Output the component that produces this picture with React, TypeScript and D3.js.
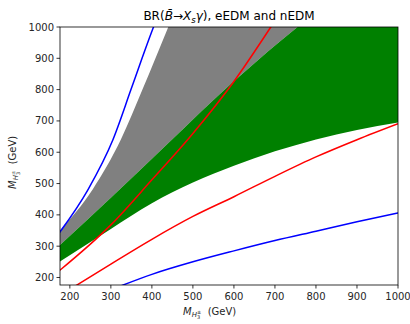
import React from "react";
import * as d3 from "d3";

const W = 410;
const H = 324;
const M = { left: 60, right: 12, top: 27, bottom: 39 };

const xTicks = [200, 300, 400, 500, 600, 700, 800, 900, 1000];
const yTicks = [200, 300, 400, 500, 600, 700, 800, 900, 1000];

// region boundaries [x, y]
const grayLeft: [number, number][] = [
  [176, 350], [256, 482], [325, 642], [377, 800], [440, 1000],
];
const greenUpper: [number, number][] = [
  [176, 304], [300, 455], [439, 628], [595, 821], [712, 954], [755, 1000],
];
const greenLower: [number, number][] = [
  [176, 251], [300, 355], [400, 437], [500, 503], [600, 557], [700, 603], [800, 641], [900, 671], [1000, 695],
];
const blueUpper: [number, number][] = [
  [170, 335], [244, 480], [305, 640], [349, 800], [376, 900], [404, 1000], [410, 1020],
];
const blueLower: [number, number][] = [
  [320, 171], [400, 210], [500, 250], [600, 285], [700, 318], [800, 348], [900, 378], [1000, 406],
];
const redUpper: [number, number][] = [
  [170, 217], [300, 368], [400, 512], [500, 660], [600, 826], [690, 1000], [696, 1012],
];
const redLower: [number, number][] = [
  [210, 170], [300, 243], [400, 322], [500, 395], [600, 458], [700, 523], [800, 585], [900, 640], [1000, 691],
];

export default function App() {
  const x = d3.scaleLinear().domain([176, 1000]).range([M.left, W - M.right]);
  const y = d3.scaleLinear().domain([176, 1000]).range([H - M.bottom, M.top]);
  const x0 = M.left, x1 = W - M.right, y0 = H - M.bottom, y1 = M.top;

  const line = d3
    .line<[number, number]>()
    .x((d) => x(d[0]))
    .y((d) => y(d[1]))
    .curve(d3.curveMonotoneX);

  const grayPoly = line(grayLeft)! + "L" + line([...greenUpper].reverse())!.slice(1) + "Z";
  const greenPoly =
    line(greenUpper)! +
    "L" + x(1000) + "," + y(1000) +
    "L" + line([...greenLower].reverse())!.slice(1) + "Z";

  const font = "DejaVu Sans, sans-serif";
  return (
    <svg width={W} height={H} style={{ position: "absolute", left: 0, top: 0 }} fontFamily={font}>
      <defs>
        <clipPath id="plot">
          <rect x={x0} y={y1} width={x1 - x0} height={y0 - y1} />
        </clipPath>
      </defs>
      <rect x={0} y={0} width={W} height={H} fill="white" />
      <g clipPath="url(#plot)">
        <path d={grayPoly} fill="#808080" />
        <path d={greenPoly} fill="#008000" />
        <path d={line(blueUpper)!} fill="none" stroke="#0000ff" strokeWidth={1.5} />
        <path d={line(blueLower)!} fill="none" stroke="#0000ff" strokeWidth={1.5} />
        <path d={line(redUpper)!} fill="none" stroke="#ff0000" strokeWidth={1.5} />
        <path d={line(redLower)!} fill="none" stroke="#ff0000" strokeWidth={1.5} />
      </g>
      <rect x={x0} y={y1} width={x1 - x0} height={y0 - y1} fill="none" stroke="#000" strokeWidth={0.8} />
      {xTicks.map((t) => (
        <g key={"x" + t}>
          <line x1={x(t)} x2={x(t)} y1={y0} y2={y0 + 3.5} stroke="#000" strokeWidth={0.8} />
          <text x={x(t)} y={y0 + 15} fontSize={10} textAnchor="middle" fill="#262626">
            {t}
          </text>
        </g>
      ))}
      {yTicks.map((t) => (
        <g key={"y" + t}>
          <line x1={x0 - 3.5} x2={x0} y1={y(t)} y2={y(t)} stroke="#000" strokeWidth={0.8} />
          <text x={x0 - 6} y={y(t)} dy="0.35em" fontSize={10} textAnchor="end" fill="#262626">
            {t}
          </text>
        </g>
      ))}
      <text x={(x0 + x1) / 2} y={20} fontSize={12} textAnchor="middle" fill="#000">
        BR(<tspan fontStyle="italic">B̄</tspan>→<tspan fontStyle="italic">X</tspan>
        <tspan fontStyle="italic" fontSize={8.5} dy={2.5}>s</tspan>
        <tspan fontStyle="italic" dy={-2.5}>γ</tspan>), eEDM and nEDM
      </text>
      <text x={183} y={315} fontSize={10} fill="#262626">
        <tspan fontStyle="italic">M</tspan>
        <tspan fontStyle="italic" fontSize={7} dy={2}>H</tspan>
        <tspan fontSize={5} dy={1.5}>3</tspan>
        <tspan fontSize={5} dx={-3} dy={-5}>±</tspan>
        <tspan dy={1.5}>{"\u00a0\u00a0(GeV)"}</tspan>
      </text>
      <text transform={`translate(16,189) rotate(-90)`} fontSize={10} fill="#262626">
        <tspan fontStyle="italic">M</tspan>
        <tspan fontStyle="italic" fontSize={7} dy={2}>H</tspan>
        <tspan fontSize={5} dy={1.5}>3</tspan>
        <tspan fontSize={5} dx={-3} dy={-5}>±</tspan>
        <tspan dy={1.5}>{"\u00a0\u00a0(GeV)"}</tspan>
      </text>
    </svg>
  );
}
